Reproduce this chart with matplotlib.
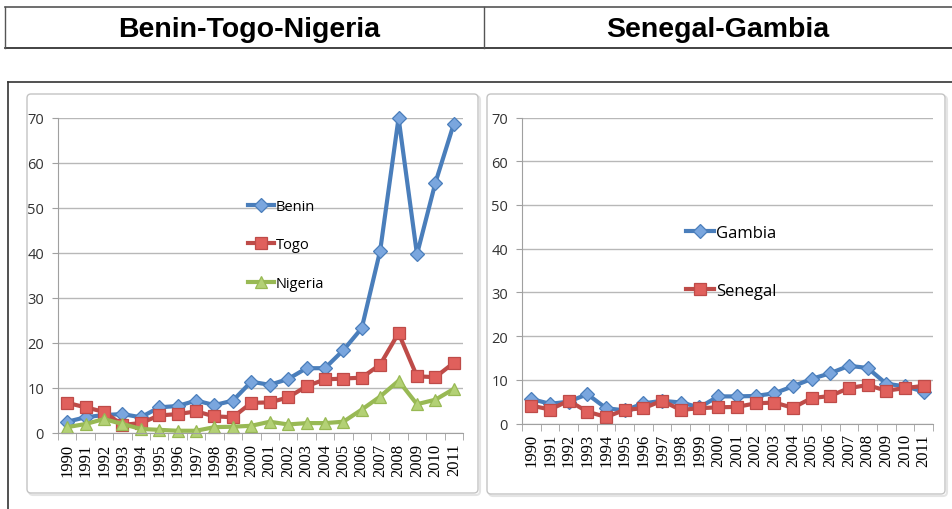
import numpy as np
import matplotlib
matplotlib.use("Agg")
import matplotlib.pyplot as plt
from matplotlib.patches import FancyBboxPatch
from matplotlib.lines import Line2D

# data
years = [str(y) for y in range(1990, 2012)]

benin = [2.5, 3.5, 4.0, 4.2, 3.5, 5.7, 6.0, 7.2, 6.2, 7.2, 11.4, 10.7,
         12.0, 14.4, 14.4, 18.4, 23.3, 40.5, 70.0, 39.7, 55.6, 68.7]
togo = [6.7, 5.7, 4.7, 1.8, 2.2, 3.9, 4.2, 4.8, 3.7, 3.5, 6.7, 6.8,
        7.9, 10.4, 11.9, 12.1, 12.3, 15.2, 22.2, 12.6, 12.4, 15.6]
nigeria = [1.3, 2.0, 3.1, 2.0, 0.9, 0.7, 0.5, 0.5, 1.3, 1.4, 1.6, 2.5,
           1.9, 2.2, 2.2, 2.5, 5.2, 8.1, 11.6, 6.4, 7.4, 9.8]

gambia = [5.6, 4.5, 5.0, 6.7, 3.5, 3.0, 4.6, 5.2, 4.8, 3.7, 6.2, 6.2,
          6.3, 6.9, 8.5, 10.2, 11.5, 13.2, 12.7, 9.1, 8.5, 7.3]
senegal = [4.1, 3.2, 5.2, 2.7, 1.5, 3.1, 3.5, 5.2, 3.1, 3.5, 3.7, 3.8,
           4.6, 4.8, 3.6, 5.8, 6.3, 8.1, 8.8, 7.5, 8.1, 8.6]

headers = ["Benin-Togo-Nigeria", "Senegal-Gambia"]

W, H = 952, 510


def rect(x0, y0, x1, y1):
    return [x0 / W, 1 - y1 / H, (x1 - x0) / W, (y1 - y0) / H]


fig = plt.figure(figsize=(W / 100, H / 100), dpi=100)

# background layer in pixel coordinates
bg = fig.add_axes([0, 0, 1, 1])
bg.set_xlim(0, W)
bg.set_ylim(H, 0)
bg.axis("off")

# header table
bg.add_line(Line2D([5, 952], [8, 8], color="#555555", lw=1.2))
bg.add_line(Line2D([5, 952], [49, 49], color="#222222", lw=1.2))
bg.add_line(Line2D([5, 5], [8, 49], color="#555555", lw=1.0))
bg.add_line(Line2D([484, 484], [8, 49], color="#555555", lw=1.0))
bg.text(249, 30, headers[0], ha="center", va="center", fontsize=20.5,
        fontweight="bold", family="Liberation Sans")
bg.text(718, 30, headers[1], ha="center", va="center", fontsize=20.5,
        fontweight="bold", family="Liberation Sans")

# outer frame
bg.add_line(Line2D([8, 952], [83, 83], color="#333333", lw=1.2))
bg.add_line(Line2D([8, 8], [83, 510], color="#333333", lw=1.2))

# plot area boxes
for (x0, y0, x1, y1) in [(27, 95, 478, 494), (487, 95, 945, 495)]:
    bg.add_patch(FancyBboxPatch((x0 + 2, y0 + 2), x1 - x0, y1 - y0,
                                boxstyle="round,pad=0,rounding_size=4",
                                fc="none", ec="#e4e4e4", lw=1.5))
    bg.add_patch(FancyBboxPatch((x0, y0), x1 - x0, y1 - y0,
                                boxstyle="round,pad=0,rounding_size=4",
                                fc="white", ec="#c4c4c4", lw=1.0))

blue_l, blue_m = "#4a7ebb", "#7aa6de"
red_l, red_m = "#be4b48", "#e0605c"
green_l, green_m = "#98b954", "#b3d175"


def style_axes(ax):
    x = np.arange(len(years))
    ax.set_xlim(-0.5, len(years) - 0.5)
    ax.set_ylim(0, 70)
    ax.set_yticks(range(0, 71, 10))
    ax.set_xticks(x)
    ax.set_xticklabels(years, rotation=90, family="Liberation Serif",
                       fontsize=12)
    ax.set_xticks(np.arange(-0.5, len(years)), minor=True)
    ax.tick_params(axis="x", which="major", length=0, pad=7)
    ax.tick_params(axis="x", which="minor", length=5, color="#a0a0a0")
    ax.tick_params(axis="y", length=4, color="#a0a0a0", pad=6,
                   labelsize=10.5)
    for t in ax.get_yticklabels():
        t.set_family("Open Sans")
        t.set_color("#333333")
    ax.grid(axis="y", color="#b8b8b8", lw=1.0)
    ax.set_axisbelow(True)
    for s in ["top", "right"]:
        ax.spines[s].set_visible(False)
    ax.spines["left"].set_color("#a0a0a0")
    ax.spines["bottom"].set_color("#a0a0a0")
    ax.patch.set_alpha(0)
    return x


def series(ax, x, y, lc, mc, marker, ms, label):
    ax.plot(x, y, color=lc, lw=3.0, marker=marker, ms=ms, mfc=mc, mec=lc,
            mew=0.9, label=label, clip_on=False)


# left chart
ax1 = fig.add_axes(rect(58, 119, 463, 434))
x = style_axes(ax1)
series(ax1, x, benin, blue_l, blue_m, "D", 7.5, "Benin")
series(ax1, x, togo, red_l, red_m, "s", 9, "Togo")
series(ax1, x, nigeria, green_l, green_m, "^", 9, "Nigeria")
leg1 = ax1.legend(loc="upper left", bbox_to_anchor=(248 / W, 1 - 200 / H),
                  bbox_transform=fig.transFigure, frameon=False,
                  handlelength=1.8, handletextpad=0.1, labelspacing=1.6,
                  numpoints=1, borderpad=0, borderaxespad=0,
                  prop={"family": "Open Sans", "size": 10.5})

# right chart
ax2 = fig.add_axes(rect(522, 118.5, 933, 424.5))
x = style_axes(ax2)
series(ax2, x, gambia, blue_l, blue_m, "D", 7.5, "Gambia")
series(ax2, x, senegal, red_l, red_m, "s", 9, "Senegal")
leg2 = ax2.legend(loc="upper left", bbox_to_anchor=(686 / W, 1 - 226 / H),
                  bbox_transform=fig.transFigure, frameon=False,
                  handlelength=1.7, handletextpad=0.1, labelspacing=2.5,
                  numpoints=1, borderpad=0, borderaxespad=0,
                  prop={"family": "Open Sans", "size": 12})

fig.savefig("out.png", dpi=100)
